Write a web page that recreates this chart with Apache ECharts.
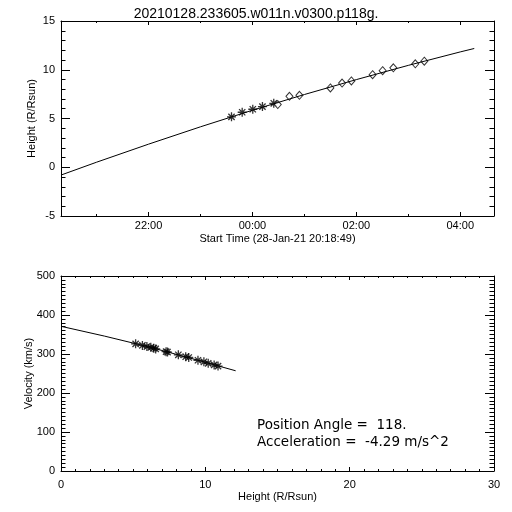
<!DOCTYPE html>
<html><head><meta charset="utf-8">
<script src="https://cdn.jsdelivr.net/npm/echarts@6/dist/echarts.min.js"></script>
<style>html,body{margin:0;padding:0;background:#fff}#c{width:512px;height:512px}</style>
</head><body><div id="c"></div>
<script>
const titleText = '20210128.233605.w011n.v0300.p118g.';
const topXName = 'Start Time (28-Jan-21 20:18:49)';
const topYName = 'Height (R/Rsun)';
const botXName = 'Height (R/Rsun)';
const botYName = 'Velocity (km/s)';
const noteLine1 = 'Position Angle =  118.';
const noteLine2 = 'Acceleration =  -4.29 m/s^2';

// top panel: time in hours relative to 29-Jan-21 00:00
const startHour = -3.6864;   // 28-Jan-21 20:18:49
const endHour = 4.65;
const timeMajorTicks = [-2, 0, 2, 4];
const timeMinorTicks = [-3, -1, 1, 3];
const c2Times = [-0.404, -0.198, 0.006, 0.192, 0.41];
const c2Heights = [5.17, 5.64, 5.95, 6.22, 6.56];
const c3Times = [0.487, 0.712, 0.904, 1.5, 1.725, 1.904, 2.313, 2.506, 2.712, 3.135, 3.308];
const c3Heights = [6.43, 7.28, 7.38, 8.13, 8.64, 8.85, 9.49, 9.90, 10.2, 10.61, 10.88];
const fitTimes = [-3.686, -3, -2, -1, 0, 1, 2, 3, 4, 4.27];
const fitHeights = [-0.8, 0.52, 2.37, 4.15, 5.85, 7.46, 8.99, 10.45, 11.83, 12.18];

// bottom panel
const velHeights = [5.17, 5.64, 5.95, 6.22, 6.56, 6.43, 7.28, 7.38, 8.13, 8.64, 8.85, 9.49, 9.90, 10.2, 10.61, 10.88];
const velocities = [326, 322, 319, 317, 313, 315, 306, 305, 298, 293, 291, 284, 280, 276, 272, 269];
const vFitHeights = [0, 3, 6, 9, 12.1];
const vFitVel = [371, 346, 319, 289, 257];

const FONT = 'Liberation Sans';
const BLACK = '#000';
const asterisk = 'path://M5,0L5,10M0,5L10,5M1.5,1.5L8.5,8.5M1.5,8.5L8.5,1.5';

function zip(a, b) { return a.map((v, i) => [v, b[i]]); }
function fmtHour(v) {
  let h = ((Math.round(v) % 24) + 24) % 24;
  return (h < 10 ? '0' : '') + h + ':00';
}

const lineStyle = { color: BLACK, width: 1 };
const labelStyle = { color: BLACK, fontFamily: FONT, fontSize: 11 };
const nameStyle = { color: BLACK, fontFamily: FONT, fontSize: 11 };

function timeAxis(pos, ticks, len, showLine, showLabel, extra) {
  return Object.assign({
    type: 'value', gridIndex: 0, position: pos, min: startHour, max: endHour,
    axisLine: { show: showLine, onZero: false, lineStyle },
    axisTick: { show: true, inside: true, length: len, customValues: ticks, lineStyle },
    axisLabel: showLabel ? Object.assign({ show: true, customValues: ticks, formatter: fmtHour, margin: 4 }, labelStyle) : { show: false },
    splitLine: { show: false }
  }, extra || {});
}

const option = {
  animation: false,
  backgroundColor: '#fff',
  title: {
    text: titleText, left: 'center', top: 2,
    textStyle: { color: BLACK, fontFamily: FONT, fontSize: 14, fontWeight: 'normal' }
  },
  grid: [
    { left: 61, right: 18, top: 21, height: 195 },
    { left: 61, right: 18, top: 276, height: 195 }
  ],
  xAxis: [
    timeAxis('bottom', timeMajorTicks, 4, true, true, {
      name: topXName, nameLocation: 'middle', nameGap: 17, nameMoveOverlap: false, nameTextStyle: nameStyle
    }),
    timeAxis('bottom', timeMinorTicks, 2, false, false),
    timeAxis('top', timeMajorTicks, 4, true, false),
    timeAxis('top', timeMinorTicks, 2, false, false),
    {
      type: 'value', gridIndex: 1, position: 'bottom', min: 0, max: 30, interval: 10,
      axisLine: { onZero: false, lineStyle },
      axisTick: { inside: true, length: 4, lineStyle },
      minorTick: { show: true, splitNumber: 10, length: 2, lineStyle },
      axisLabel: Object.assign({ margin: 8 }, labelStyle),
      splitLine: { show: false },
      name: botXName, nameLocation: 'middle', nameGap: 20, nameMoveOverlap: false, nameTextStyle: nameStyle
    },
    {
      type: 'value', gridIndex: 1, position: 'top', min: 0, max: 30, interval: 10,
      axisLine: { onZero: false, lineStyle },
      axisTick: { inside: true, length: 4, lineStyle },
      minorTick: { show: true, splitNumber: 10, length: 2, lineStyle },
      axisLabel: { show: false },
      splitLine: { show: false }
    }
  ],
  yAxis: [
    {
      type: 'value', gridIndex: 0, position: 'left', min: -5, max: 15, interval: 5,
      axisLine: { onZero: false, lineStyle },
      axisTick: { inside: true, length: 9, lineStyle },
      minorTick: { show: true, splitNumber: 5, length: 4.5, lineStyle },
      axisLabel: Object.assign({ margin: 6 }, labelStyle),
      splitLine: { show: false },
      name: topYName, nameLocation: 'middle', nameGap: 24, nameMoveOverlap: false, nameTextStyle: nameStyle
    },
    {
      type: 'value', gridIndex: 0, position: 'right', min: -5, max: 15, interval: 5,
      axisLine: { onZero: false, lineStyle },
      axisTick: { inside: true, length: 9, lineStyle },
      minorTick: { show: true, splitNumber: 5, length: 4.5, lineStyle },
      axisLabel: { show: false },
      splitLine: { show: false }
    },
    {
      type: 'value', gridIndex: 1, position: 'left', min: 0, max: 500, interval: 100,
      axisLine: { onZero: false, lineStyle },
      axisTick: { inside: true, length: 9, lineStyle },
      minorTick: { show: true, splitNumber: 10, length: 4.5, lineStyle },
      axisLabel: Object.assign({ margin: 6 }, labelStyle),
      splitLine: { show: false },
      name: botYName, nameLocation: 'middle', nameGap: 27, nameMoveOverlap: false, nameTextStyle: nameStyle
    },
    {
      type: 'value', gridIndex: 1, position: 'right', min: 0, max: 500, interval: 100,
      axisLine: { onZero: false, lineStyle },
      axisTick: { inside: true, length: 9, lineStyle },
      minorTick: { show: true, splitNumber: 10, length: 4.5, lineStyle },
      axisLabel: { show: false },
      splitLine: { show: false }
    }
  ],
  series: [
    {
      type: 'line', xAxisIndex: 0, yAxisIndex: 0, data: zip(fitTimes, fitHeights),
      showSymbol: false, symbol: 'none', lineStyle: { color: BLACK, width: 1 }, silent: true
    },
    {
      type: 'scatter', xAxisIndex: 0, yAxisIndex: 0, data: zip(c2Times, c2Heights),
      symbol: asterisk, symbolSize: 9,
      itemStyle: { color: 'none', borderColor: BLACK, borderWidth: 1.3 }
    },
    {
      type: 'scatter', xAxisIndex: 0, yAxisIndex: 0, data: zip(c3Times, c3Heights),
      symbol: 'diamond', symbolSize: [7, 8],
      itemStyle: { color: '#fff', borderColor: BLACK, borderWidth: 1 }
    },
    {
      type: 'line', xAxisIndex: 4, yAxisIndex: 2, data: zip(vFitHeights, vFitVel),
      showSymbol: false, symbol: 'none', lineStyle: { color: BLACK, width: 1 }, silent: true
    },
    {
      type: 'scatter', xAxisIndex: 4, yAxisIndex: 2, data: zip(velHeights, velocities),
      symbol: asterisk, symbolSize: 9,
      itemStyle: { color: 'none', borderColor: BLACK, borderWidth: 1.3 }
    }
  ],
  graphic: [
    { type: 'text', left: 257, top: 418, style: { text: noteLine1, fill: BLACK, font: '13.5px "DejaVu Sans"' } },
    { type: 'text', left: 257, top: 435, style: { text: noteLine2, fill: BLACK, font: '13.5px "DejaVu Sans"' } }
  ]
};

const chart = echarts.init(document.getElementById('c'), null, { renderer: 'canvas' });
chart.setOption(option);
</script>
</body></html>
